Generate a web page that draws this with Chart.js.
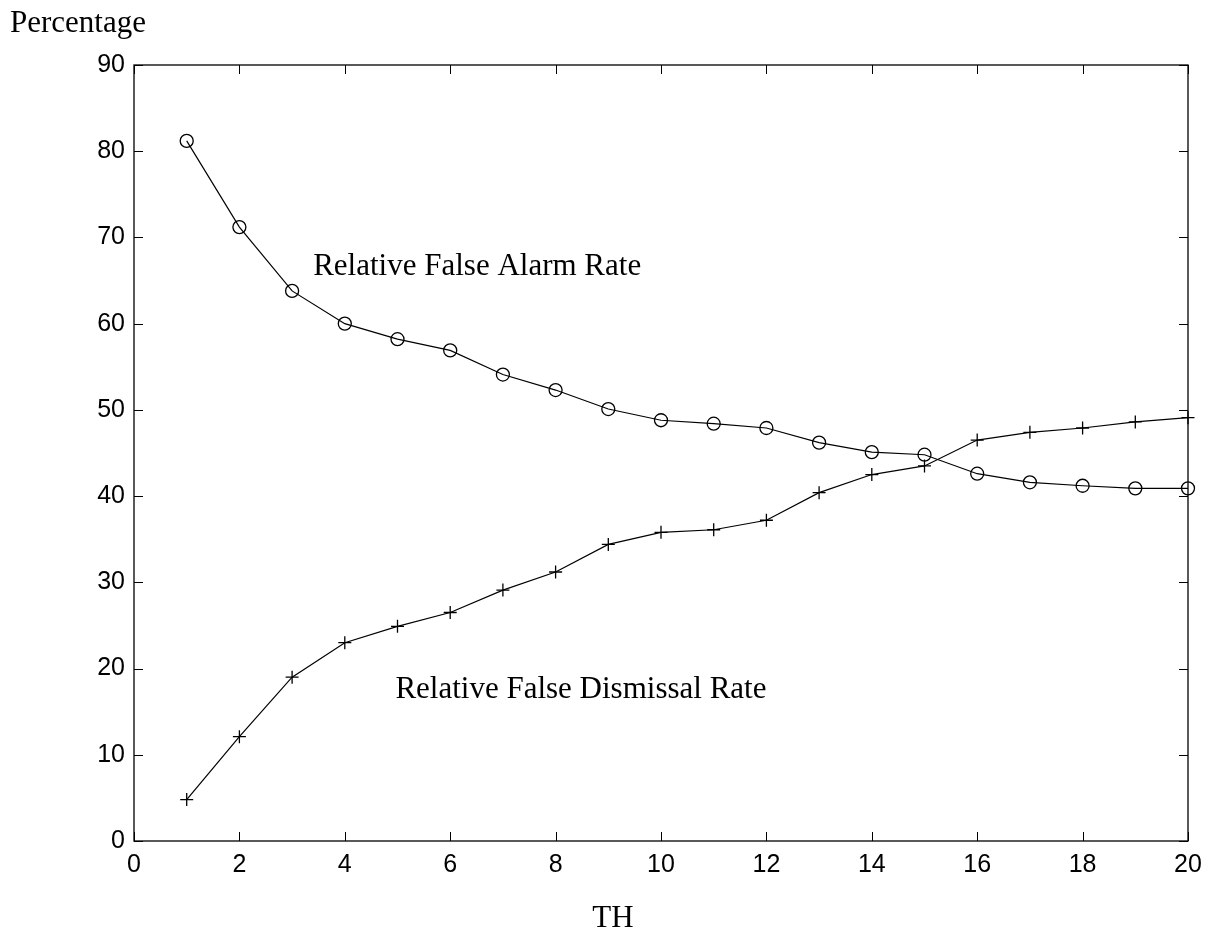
<!DOCTYPE html>
<html>
<head>
<meta charset="utf-8">
<script src="https://cdn.jsdelivr.net/npm/chart.js@4/dist/chart.umd.min.js"></script>
<style>
html,body{margin:0;padding:0;background:#fff;}
#wrap{width:1208px;height:932px;position:relative;}
</style>
</head>
<body>
<div id="wrap"><canvas id="c" width="1208" height="932"></canvas></div>
<script>
// ---- data ----
const thresholds = [1,2,3,4,5,6,7,8,9,10,11,12,13,14,15,16,17,18,19,20];
const falseAlarmRate = [81.2,71.2,63.8,60.0,58.2,56.9,54.1,52.3,50.1,48.8,48.4,47.9,46.2,45.1,44.8,42.6,41.6,41.2,40.9,40.9];
const falseDismissalRate = [4.8,12.1,19.0,23.0,24.9,26.5,29.1,31.2,34.4,35.8,36.1,37.2,40.4,42.5,43.5,46.5,47.4,47.9,48.6,49.1];
const xTickStep = 2, xMin = 0, xMax = 20;
const yTickStep = 10, yMin = 0, yMax = 90;
const seriesNames = ['Relative False Alarm Rate','Relative False Dismissal Rate'];
const labelAnchors = [[3.40,65.7],[4.96,16.6]]; // data coords (x, baseline y) for in-plot labels
const xTitle = 'TH';
const yTitle = 'Percentage';

const serif = '"Liberation Serif","Times New Roman",serif';
const sans = '"Liberation Sans",Arial,Helvetica,sans-serif';

const framePlugin = {
  id:'frame',
  afterDraw(chart){
    const ctx = chart.ctx, a = chart.chartArea;
    const xs = chart.scales.x, ys = chart.scales.y;
    ctx.save();
    ctx.strokeStyle = '#000';
    ctx.lineWidth = 1.3;
    ctx.strokeRect(a.left, a.top, a.right-a.left, a.bottom-a.top);
    const tl = 9;
    ctx.lineWidth = 1;
    ctx.beginPath();
    xs.ticks.forEach(t=>{
      const px = Math.round(xs.getPixelForValue(t.value))+0.5;
      ctx.moveTo(px,a.bottom); ctx.lineTo(px,a.bottom-tl);
      ctx.moveTo(px,a.top); ctx.lineTo(px,a.top+tl);
    });
    ys.ticks.forEach(t=>{
      const py = Math.round(ys.getPixelForValue(t.value))+0.5;
      ctx.moveTo(a.left,py); ctx.lineTo(a.left+tl,py);
      ctx.moveTo(a.right,py); ctx.lineTo(a.right-tl,py);
    });
    ctx.stroke();
    // texts
    ctx.fillStyle = '#000';
    ctx.font = '31px ' + serif;
    ctx.textBaseline = 'alphabetic';
    ctx.textAlign = 'left';
    labelAnchors.forEach((p,i)=>{
      ctx.fillText(seriesNames[i], xs.getPixelForValue(p[0]), ys.getPixelForValue(p[1]));
    });
    ctx.fillText(yTitle, 10, 32);
    ctx.textAlign = 'center';
    ctx.fillText(xTitle, 613, 927);
    ctx.restore();
  }
};

new Chart(document.getElementById('c'), {
  type:'line',
  data:{
    datasets:[
      {
        label:seriesNames[0],
        data:thresholds.map((x,i)=>({x:x,y:falseAlarmRate[i]})),
        borderColor:'#000', borderWidth:1.2,
        pointStyle:'circle', pointRadius:6.5, pointBorderWidth:1.3,
        pointBorderColor:'#000', pointBackgroundColor:'rgba(0,0,0,0)',
        tension:0, clip:false
      },
      {
        label:seriesNames[1],
        data:thresholds.map((x,i)=>({x:x,y:falseDismissalRate[i]})),
        borderColor:'#000', borderWidth:1.2,
        pointStyle:'cross', pointRadius:6.5, pointBorderWidth:1.3,
        pointBorderColor:'#000', pointBackgroundColor:'#000',
        tension:0, clip:false
      }
    ]
  },
  options:{
    responsive:false,
    animation:false,
    events:[],
    layout:{padding:{top:65,right:20,left:0,bottom:0}},
    plugins:{legend:{display:false},tooltip:{enabled:false},title:{display:false}},
    scales:{
      x:{
        type:'linear', min:xMin, max:xMax,
        grid:{display:false, drawTicks:false},
        border:{display:false},
        ticks:{stepSize:xTickStep, color:'#000', font:{family:sans,size:25}, padding:9, maxRotation:0, autoSkip:false},
        afterFit(s){ s.height = 91; s.paddingLeft = 0; s.paddingRight = 0; }
      },
      y:{
        type:'linear', min:yMin, max:yMax,
        grid:{display:false, drawTicks:false},
        border:{display:false},
        ticks:{stepSize:yTickStep, color:'#000', font:{family:sans,size:25}, padding:9},
        afterFit(s){ s.width = 134; s.paddingTop = 0; s.paddingBottom = 0; }
      }
    }
  },
  plugins:[framePlugin]
});
</script>
</body>
</html>
